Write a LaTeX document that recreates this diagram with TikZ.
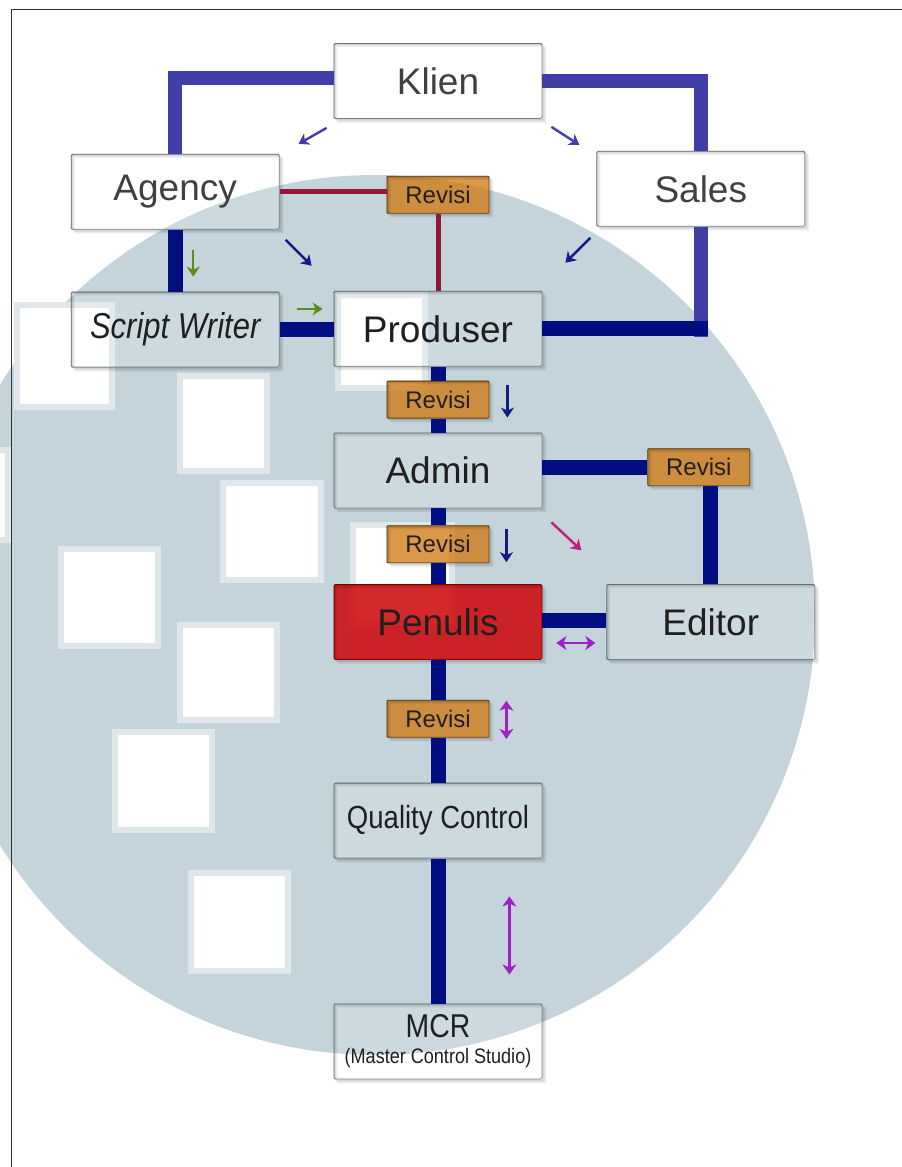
\documentclass[tikz,border=0pt]{standalone}
\usepackage{fontspec}
\setmainfont{Liberation Sans}
\newfontfamily\narrowfont[FakeStretch=0.86]{Liberation Sans}
\usetikzlibrary{positioning,arrows.meta}

\definecolor{circleblue}{RGB}{196,212,218}
\definecolor{flowslate}{RGB}{66,62,168}
\definecolor{flownavy}{RGB}{0,14,128}
\definecolor{revmaroon}{RGB}{150,22,58}
\definecolor{revorange}{RGB}{208,118,12}
\definecolor{penred}{RGB}{204,0,4}
\definecolor{boxline}{RGB}{125,135,140}
\definecolor{arrowgreen}{RGB}{92,140,30}
\definecolor{arrowmagenta}{RGB}{190,30,130}
\definecolor{arrowpurple}{RGB}{160,32,200}
\definecolor{arrownavy}{RGB}{18,28,130}

\begin{document}
\begin{tikzpicture}[
    x=1pt, y=-1pt,
    box/.style={rectangle, draw=boxline, line width=0.8pt, rounded corners=1.5pt, fill=white, fill opacity=0.15, text opacity=1, text=black!88, minimum width=208pt, minimum height=75pt, inner sep=0pt, font=\fontsize{37}{40}\selectfont},
    revisi/.style={rectangle, draw=revorange!55!black, line width=0.8pt, rounded corners=1pt, fill=revorange, fill opacity=0.75, text opacity=1, text=black!88, minimum width=102pt, minimum height=37pt, inner sep=0pt, font=\fontsize{24}{26}\selectfont},
    link/.style={line width=15pt, flownavy},
    outer/.style={line width=14pt, flowslate},
    revlink/.style={line width=5pt, revmaroon},
    hint/.style={line width=2.4pt, -{Stealth[length=10pt, width=13pt, inset=3pt]}},
    twoway/.style={line width=2.6pt, {Stealth[length=10pt, width=14pt, inset=3pt]}-{Stealth[length=10pt, width=14pt, inset=3pt]}},
    patch/.style={fill=white, draw=white!45!circleblue, line width=6pt}
]
    \useasboundingbox (0,0) rectangle (902,1167);

    % backdrop: big disc with light squares
    \begin{scope}
        \clip (0,0) rectangle (902,1167);
        \fill[circleblue] (375,615) circle (440pt);
        \foreach \xa/\ya/\xb/\yb in {180/376/267/471, 223/483/321/580, 61/549/158/646,
                180/625/277/720, 115/732/212/830, 191/873/288/971, 17/305/112/407,
                -60/450/8/540, 338/295/425/388, 353/525/452/623}
            \draw[patch] (\xa,\ya) rectangle (\xb,\yb);
    \end{scope}
    \draw[black!80, line width=1pt] (11.5,1167) -- (11.5,9) -- (902,9);

    % top row
    \node[box, text=black!75] (klien) at (438,81) {Klien};
    \node[box, text=black!75, below left=35pt and 54pt of klien] (agency) {Agency};
    \node[box, text=black!75, below right=32pt and 54pt of klien] (sales) {Sales};
    \node[revisi, right=107pt of agency, yshift=-3pt] (rev1) {Revisi};
    \node[box, below=62pt of agency, font=\narrowfont\itshape\fontsize{36}{40}\selectfont] (writer) {Script Writer};

    % main column
    \node[box, below=172pt of klien] (produser) {Produser};
    \node[revisi, below=14pt of produser] (rev2) {Revisi};
    \node[box, below=14pt of rev2] (admin) {Admin};
    \node[revisi, below=17pt of admin] (rev3) {Revisi};
    \node[box, fill=penred, fill opacity=0.84, draw=penred!70!black, below=21pt of rev3] (penulis) {Penulis};
    \node[revisi, below=40pt of penulis] (rev4) {Revisi};
    \node[box, below=45pt of rev4, font=\narrowfont\fontsize{32}{36}\selectfont] (qc) {Quality Control};
    \node[box, below=145pt of qc, align=center, font=\narrowfont\fontsize{21}{26}\selectfont] (mcr)
        {{\fontsize{33}{36}\selectfont MCR}\\(Master Control Studio)};

    % editor branch
    \node[box, right=64pt of penulis] (editor) {Editor};
    \node[revisi, above=98pt of editor, xshift=-12pt] (rev5) {Revisi};

    % soft shadows
    \foreach \n in {klien,agency,sales,writer,produser,admin,penulis,editor,qc,mcr,rev1,rev2,rev3,rev4,rev5}
        \foreach \s in {1,...,4}
            \fill[black, opacity=0.05, even odd rule]
                ([shift={(\s,\s)}]\n.south west) rectangle ([shift={(\s,\s)}]\n.north east)
                (\n.south west) rectangle (\n.north east);

    % connectors
    \draw[outer] ([yshift=3pt]klien.west) -| (agency.north);
    \draw[outer] (klien.east) -| (sales.north);
    \draw[outer] (sales.south) -- ([yshift=-8pt]sales.south |- produser.east);
    \draw[link] (produser.east) -- ([xshift=7pt]sales.south |- produser.east);
    \draw[link] (agency.south) -- (agency.south |- writer.north);
    \draw[link] (writer.east) -- (writer.east -| produser.west);
    \draw[revlink] (agency.east) -- (agency.east -| rev1.west);
    \draw[revlink] (rev1.south) -- (rev1.south |- produser.north);
    \foreach \a/\b in {produser/rev2, rev2/admin, admin/rev3, rev3/penulis, penulis/rev4, rev4/qc, qc/mcr}
        \draw[link] (\a.south) -- (\a.south |- \b.north);
    \draw[link] (rev5.west -| admin.east) -- (rev5.west);
    \draw[link] (rev5.south -| editor.north) -- (editor.north);
    \draw[link] ([yshift=2pt]penulis.east) -- ([yshift=2pt]editor.west);

    % direction hints
    \draw[hint, flowslate] ([shift={(-7,9)}]klien.south west) -- ++(-28,16);
    \draw[hint, flowslate] ([shift={(9,8)}]klien.south east) -- ++(28,18);
    \draw[hint, arrownavy] ([shift={(6,10)}]agency.south east) -- ++(26,26);
    \draw[hint, arrownavy] ([shift={(-6,11)}]sales.south west) -- ++(-25,25);
    \draw[hint, arrowgreen] ([shift={(18,20)}]agency.south) -- ++(0,27);
    \draw[hint, arrowgreen] ([shift={(-37,18)}]produser.north west) -- ++(26,0);
    \draw[hint, arrownavy] ([shift={(18,-15)}]rev2.east) -- ++(0,33);
    \draw[hint, arrownavy] ([shift={(17,-15)}]rev3.east) -- ++(0,33);
    \draw[hint, arrowmagenta] ([shift={(9,14)}]admin.south east) -- ++(30,28);
    \draw[twoway, arrowpurple] ([shift={(14,21)}]penulis.east) -- ++(39,0);
    \draw[twoway, arrowpurple] ([shift={(17,-18)}]rev4.east) -- ++(0,38);
    \draw[twoway, arrowpurple] ([shift={(-33,38)}]qc.south east) -- ++(0,78);
\end{tikzpicture}
\end{document}
